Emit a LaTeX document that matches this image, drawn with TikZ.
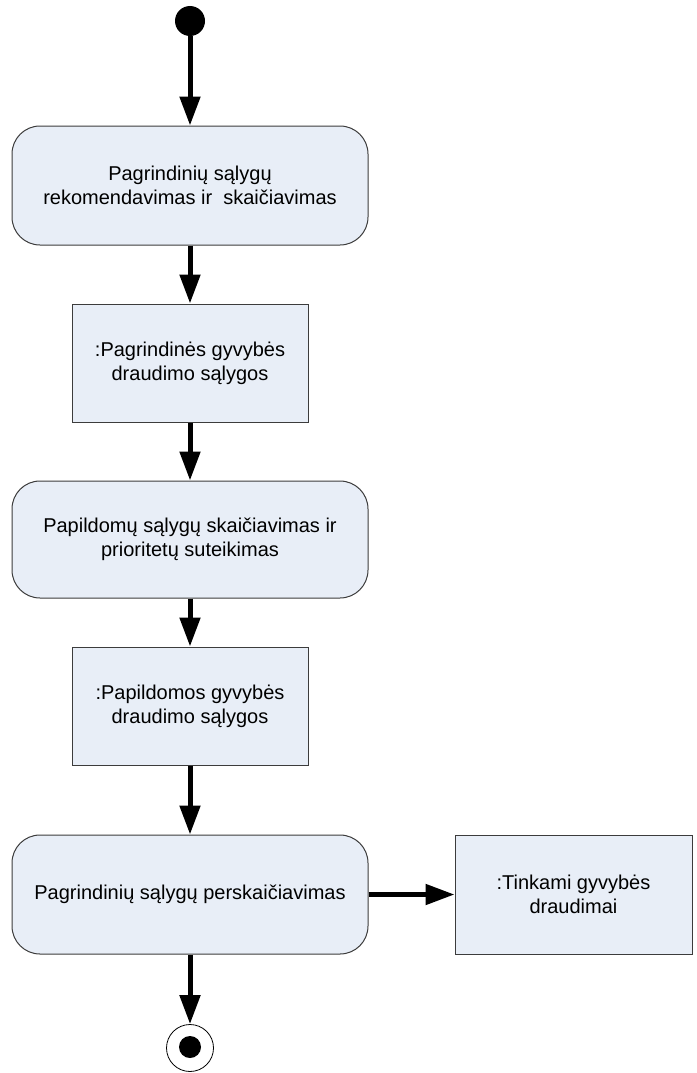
\documentclass[tikz,border=0pt]{standalone}
\usepackage{fontspec}
\setmainfont{Liberation Sans}
\usetikzlibrary{arrows.meta}
\definecolor{boxfill}{HTML}{E8EEF7}
\definecolor{boxline}{HTML}{3C3C3C}
\begin{document}
\begin{tikzpicture}[x=1pt,y=-1pt,
  every node/.style={font=\fontsize{20}{24}\selectfont, align=center, inner sep=0pt},
  action/.style={draw=boxline, line width=1pt, fill=boxfill, rounded corners=28pt,
    minimum width=356pt, minimum height=119pt},
  object/.style={draw=boxline, line width=1pt, fill=boxfill,
    minimum width=236pt, minimum height=118pt},
  flow/.style={line width=5pt, -{Triangle[length=29pt,width=20pt]}}]
\useasboundingbox (0,0) rectangle (696,1073);

% initial and final states
\node[circle, fill=black, minimum size=30pt] (start) at (190,21) {};
\node[circle, draw=black, line width=0.8pt, fill=white, minimum size=47pt] (stop) at (190,1048) {};
\node[circle, fill=black, minimum size=22pt] (stopdot) at (190,1047) {};

% activities and objects
\node[action] (a1) at (190,185.5) {Pagrindinių sąlygų\\rekomendavimas ir\ \ skaičiavimas};
\node[object] (o1) at (190,363) {:Pagrindinės gyvybės\\draudimo sąlygos};
\node[action, minimum height=117pt] (a2) at (190,539.5) {Papildomų sąlygų skaičiavimas ir\\prioritetų suteikimas};
\node[object] (o2) at (190,706) {:Papildomos gyvybės\\draudimo sąlygos};
\node[action] (a3) at (190,894.5) {Pagrindinių sąlygų perskaičiavimas};
\node[object, minimum width=237pt, minimum height=119pt] (o3) at (573.5,894.5) {:Tinkami gyvybės\\draudimai};

% control flow
\draw[flow] (start) -- (a1.north);
\draw[flow] (a1.south) -- (o1.north);
\draw[flow] (o1.south) -- (a2.north);
\draw[flow] (a2.south) -- (o2.north);
\draw[flow] (o2.south) -- (a3.north);
\draw[flow] (a3.east) -- (o3.west);
\draw[flow] (a3.south) -- (stop.north);
\end{tikzpicture}
\end{document}
